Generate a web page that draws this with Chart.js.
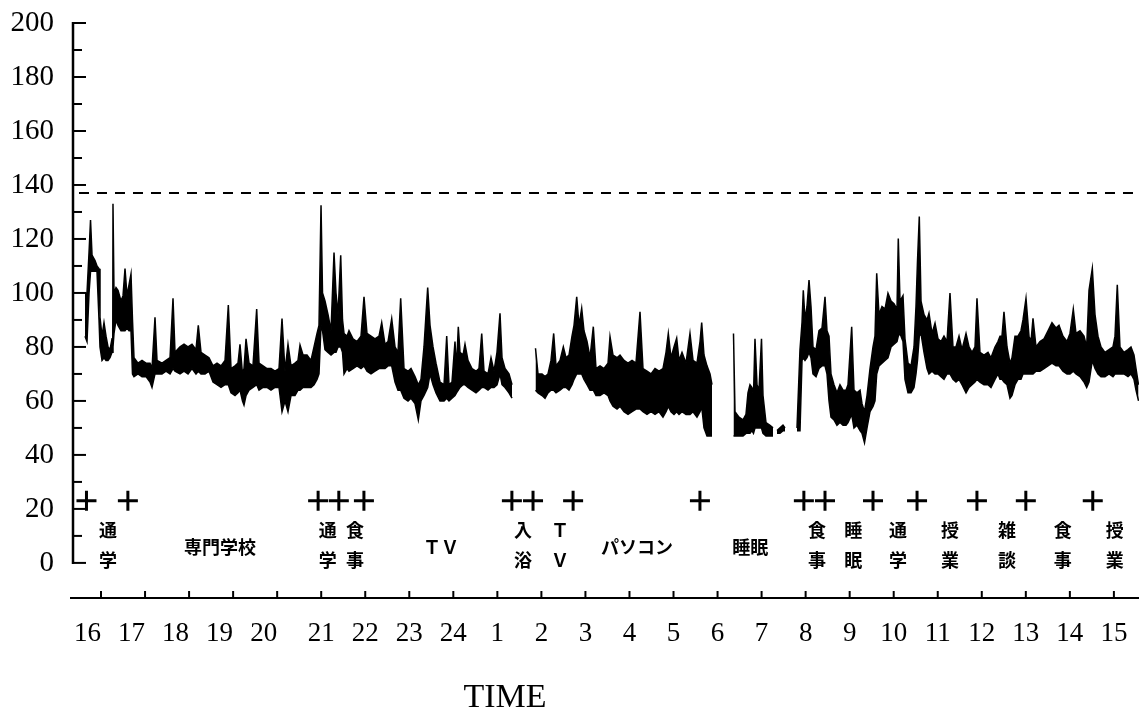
<!DOCTYPE html>
<html>
<head>
<meta charset="utf-8">
<script src="https://cdn.jsdelivr.net/npm/chart.js@4.4.1/dist/chart.umd.min.js"></script>
<style>
  html, body { margin: 0; padding: 0; background: #fff; }
</style>
</head>
<body>
<canvas id="hrChart" width="1139" height="708"></canvas>
<script>
// hours counted from 16:00; values over 24 are the next morning
var hourTicks = [16,17,18,19,20,21,22,23,24,25,26,27,28,29,30,31,32,33,34,35,36,37,38,39];
var yTickValues = [0,20,40,60,80,100,120,140,160,180,200];
var thresholdValue = 137;
var markLevel = 23;

// activity change marks (+) and activity names
var markHours = [15.67, 16.61, 20.93, 21.40, 21.97, 25.33, 25.81, 26.72, 29.60, 31.96, 32.44, 33.53, 34.53, 35.89, 37.00, 38.52];
var activityHours = [16.16, 18.70, 21.15, 21.77, 23.72, 25.58, 26.42, 28.17, 30.74, 32.26, 33.08, 34.10, 35.28, 36.57, 37.84, 39.02];
var activityLabels = ['通\n学', '専門学校', '通\n学', '食\n事', 'ＴＶ', '入\n浴', 'Ｔ\nＶ', 'パソコン', '睡眠', '食\n事', '睡\n眠', '通\n学', '授\n業', '雑\n談', '食\n事', '授\n業'];

// heart rate trace: time, lower and upper edge of the band
var hrTime = [
  // 16:00 - 1:20
  15.637, 15.682, 15.728, 15.762, 15.796, 15.864, 15.909, 15.955, 15.977, 16.023,
  16.068, 16.114, 16.159, 16.204, 16.250, 16.272, 16.295, 16.341, 16.386, 16.454,
  16.500, 16.545, 16.590, 16.636, 16.681, 16.715, 16.749, 16.840, 16.931, 17.022,
  17.113, 17.158, 17.226, 17.272, 17.385, 17.476, 17.567, 17.635, 17.680, 17.794,
  17.885, 17.976, 18.066, 18.157, 18.209, 18.271, 18.362, 18.452, 18.543, 18.634,
  18.725, 18.816, 18.891, 18.952, 19.043, 19.111, 19.156, 19.213, 19.247, 19.293,
  19.361, 19.451, 19.535, 19.588, 19.679, 19.769, 19.860, 19.951, 20.042, 20.110,
  20.178, 20.246, 20.314, 20.405, 20.473, 20.519, 20.587, 20.678, 20.768, 20.837,
  20.905, 20.950, 20.996, 21.030, 21.086, 21.155, 21.223, 21.291, 21.336, 21.382,
  21.443, 21.484, 21.518, 21.586, 21.631, 21.722, 21.813, 21.904, 21.972, 22.040,
  22.131, 22.222, 22.313, 22.374, 22.449, 22.517, 22.601, 22.676, 22.744, 22.805,
  22.880, 22.971, 23.039, 23.130, 23.205, 23.266, 23.334, 23.418, 23.471, 23.539,
  23.607, 23.698, 23.789, 23.850, 23.902, 23.970, 24.038, 24.072, 24.113, 24.152,
  24.220, 24.265, 24.333, 24.424, 24.515, 24.583, 24.645, 24.697, 24.788, 24.856,
  24.924, 24.992, 25.060, 25.106, 25.174, 25.264, 25.333,
  25.60,
  // 1:50 - 5:50
  25.866, 25.923, 26.014, 26.082, 26.150, 26.218, 26.279, 26.332, 26.423, 26.498,
  26.559, 26.627, 26.695, 26.741, 26.802, 26.854, 26.915, 26.967, 27.036, 27.104,
  27.179, 27.240, 27.331, 27.422, 27.513, 27.558, 27.626, 27.717, 27.785, 27.876,
  27.967, 28.058, 28.148, 28.239, 28.307, 28.398, 28.489, 28.580, 28.671, 28.761,
  28.830, 28.882, 28.943, 29.011, 29.072, 29.125, 29.193, 29.284, 29.374, 29.443,
  29.533, 29.602, 29.640, 29.692, 29.760, 29.829, 29.874,
  30.15,
  // sleep
  30.362, 30.396, 30.487, 30.578, 30.646, 30.691, 30.737, 30.782, 30.816, 30.850,
  30.896, 30.941, 30.998, 31.032, 31.100, 31.191, 31.259,
  31.30,
  31.350, 31.418, 31.486, 31.532,
  31.70,
  // 7:50 - 15:30
  31.804, 31.872, 31.918, 31.947, 31.986, 32.031, 32.077, 32.122, 32.167, 32.236,
  32.304, 32.372, 32.440, 32.485, 32.531, 32.576, 32.644, 32.712, 32.780, 32.849,
  32.917, 32.962, 33.046, 33.098, 33.166, 33.235, 33.280, 33.337, 33.394, 33.462,
  33.530, 33.575, 33.614, 33.666, 33.734, 33.802, 33.870, 33.939, 34.007, 34.075,
  34.104, 34.143, 34.211, 34.256, 34.325, 34.393, 34.461, 34.506, 34.540, 34.581,
  34.620, 34.688, 34.756, 34.801, 34.870, 34.938, 35.006, 35.074, 35.142, 35.210,
  35.278, 35.346, 35.414, 35.483, 35.551, 35.642, 35.710, 35.778, 35.846, 35.891,
  35.959, 36.050, 36.141, 36.209, 36.300, 36.368, 36.414, 36.459, 36.504, 36.573,
  36.641, 36.686, 36.754, 36.822, 36.890, 36.936, 37.004, 37.072, 37.118, 37.163,
  37.231, 37.322, 37.413, 37.504, 37.594, 37.685, 37.753, 37.844, 37.935, 38.003,
  38.078, 38.139, 38.230, 38.321, 38.382, 38.435, 38.510, 38.571, 38.639, 38.707,
  38.798, 38.889, 38.979, 39.025, 39.077, 39.138, 39.229, 39.320, 39.388, 39.456,
  39.502, 39.559
];

var hrLow = [
  84, 82, 100, 108, 108, 108, 108, 90, 80, 75,
  76, 75, 75, 76, 78, 80, 85, 90, 88, 86,
  86, 86, 87, 86, 86, 70, 69, 70, 69, 69,
  67, 65, 70, 70, 70, 71, 70, 72, 71, 70,
  71, 70, 72, 70, 71, 70, 70, 71, 67, 66,
  65, 66, 66, 63, 62, 63, 64, 60, 58.5, 62,
  64, 65, 66, 64, 65, 65, 64, 65, 65, 56,
  60, 56, 62, 62, 64, 64, 65, 65, 65, 66,
  68, 70, 88, 86, 79, 78, 77, 78, 78, 80,
  80, 78, 70, 72, 71, 72, 73, 72, 73, 71,
  70, 71, 72, 72, 72, 73, 73, 67, 64, 64,
  61, 60, 61, 59, 53, 60, 62, 65, 70, 66,
  63, 60, 60, 61, 60, 61, 62, 63, 64, 65,
  66, 66, 65, 64, 63, 64, 65, 65, 64, 65,
  65, 66, 70, 66, 65, 63, 61,
  null,
  64, 63, 62, 61, 63, 64, 64, 63, 64, 65,
  65, 64, 66, 68, 70, 70, 70, 68, 66, 64,
  64, 62, 62, 63, 62, 60, 58, 57, 58, 56,
  55, 56, 57, 57, 56, 55, 56, 55, 56, 54,
  56, 58, 56, 55, 56, 55, 56, 55, 55, 56,
  54, 56, 58, 50, 47, 47, 47,
  null,
  47, 47, 47, 47, 48, 48, 48, 49, 48, 50,
  50, 50, 50, 48, 47, 47, 47,
  null,
  48, 48, 49, 49,
  null,
  49, 49, 75, 76, 75, 76, 78, 76, 70, 69,
  72, 73, 73, 70, 60, 54, 53, 51, 52, 51,
  51, 52, 55, 50, 51, 49, 48, 44.5, 50, 56,
  58, 60, 70, 73, 74, 75, 76, 80, 81, 82,
  84, 85, 82, 68, 63, 63, 65, 70, 75, 84,
  85, 78, 72, 70, 71, 70, 70, 69, 68, 70,
  70, 68, 67, 68, 66, 63, 65, 66, 67, 68,
  67, 66, 66, 65, 68, 70, 68, 68, 67, 66,
  61, 62, 66, 68, 68, 70, 70, 70, 70, 70,
  71, 71, 72, 73, 74, 73, 73, 71, 70, 70,
  71, 70, 69, 67, 65, 67, 75, 72, 70, 69,
  69, 70, 69, 70, 70, 70, 70, 69, 70, 68,
  64, 60
];

var hrHigh = [
  100, 100, 115, 127, 114, 112, 110, 109, 91, 84,
  89, 84, 80, 79, 83, 133, 100, 102, 101, 97,
  99, 109, 99, 103, 107, 90, 76, 74, 75, 74,
  74, 72, 91, 75, 74, 75, 76, 98, 78, 80,
  81, 80, 81, 79, 88, 78, 77, 76, 73, 74,
  73, 75, 95.5, 72, 73, 74, 81, 70, 72, 83,
  74, 73, 94, 74, 73, 72, 72, 71, 72, 90.5,
  71, 81, 73, 74, 75, 80.7, 77, 77, 75, 80,
  85, 88, 132.5, 100, 97, 92, 86, 115, 100, 92,
  114, 90, 85, 84, 86, 83, 82, 84, 98.6, 85,
  84, 83, 84, 89, 81, 82, 90.5, 80, 78, 98,
  72, 71, 72, 69, 66, 68, 80, 102, 88, 80,
  74, 67, 66, 84, 66, 67, 82, 72, 87.5, 78,
  77, 81, 75, 72, 71, 72, 85, 71, 70, 76,
  71, 78, 92.5, 76, 72, 70, 66,
  null,
  79.5, 70, 70, 69, 70, 75, 85, 73, 75, 80,
  76, 77, 84, 88, 98.6, 88, 94.3, 86, 82, 76,
  87.5, 72, 73, 72, 74, 83.8, 77, 76, 77, 75,
  74, 75, 74, 93, 72, 71, 70, 72, 71, 72,
  78, 85, 76, 80, 83.2, 75, 78, 74, 85, 75,
  74, 82, 89, 77, 73, 70, 66,
  null,
  85, 56, 54, 53, 55, 63, 66, 65, 62, 83,
  66, 64, 83, 62, 52, 51, 50,
  null,
  49, 50, 51, 50,
  null,
  50, 79, 89, 101, 90, 95, 104.8, 95, 80, 79,
  86, 87, 98.6, 86, 84, 70, 66, 63, 66, 64,
  64, 66, 87.5, 64, 63, 64, 59, 56, 62, 72,
  80, 84, 107.3, 92, 95, 94, 99.9, 97, 96, 94,
  120.2, 97, 99, 83, 74, 73, 80, 95, 111.6, 128.3,
  97, 92, 90, 92.5, 85, 88.8, 83, 82, 84, 82,
  100, 80, 80, 84, 79, 85, 80, 78, 80, 98,
  78, 77, 78, 76, 80, 82, 84, 84, 93, 80,
  74, 76, 84, 84, 86, 90, 98, 84, 82, 90.6,
  80, 82, 83, 86, 89, 87, 88, 84, 82, 85,
  94, 85, 86, 84, 80, 101, 109.1, 92, 84, 80,
  78, 79, 80, 84, 103, 80, 78, 79, 80, 77,
  72, 66
];

Chart.defaults.font.family = '"Liberation Serif", "Times New Roman", serif';
Chart.defaults.color = '#000';

// axis lines with inward ticks, like the original plot
var axisFrame = {
  id: 'axisFrame',
  afterDatasetsDraw: function (chart) {
    var ctx = chart.ctx, xs = chart.scales.x, ys = chart.scales.y, area = chart.chartArea;
    ctx.save();
    ctx.strokeStyle = '#000';
    ctx.lineWidth = 2.5;
    ctx.beginPath();
    ctx.moveTo(area.left, ys.getPixelForValue(200) - 1);
    ctx.lineTo(area.left, ys.getPixelForValue(0) + 1);
    ctx.stroke();
    ctx.lineWidth = 2;
    for (var v = 0; v <= 200; v += 10) {
      var py = ys.getPixelForValue(v);
      var len = v % 20 === 0 ? 13 : 9;
      ctx.beginPath();
      ctx.moveTo(area.left, py);
      ctx.lineTo(area.left + len, py);
      ctx.stroke();
    }
    ctx.beginPath();
    ctx.moveTo(area.left - 3, area.bottom);
    ctx.lineTo(area.right, area.bottom);
    ctx.stroke();
    hourTicks.forEach(function (h) {
      var px = xs.getPixelForValue(h);
      ctx.beginPath();
      ctx.moveTo(px, area.bottom);
      ctx.lineTo(px, area.bottom - 7);
      ctx.stroke();
    });
    ctx.restore();
  }
};

var activityText = {
  id: 'activityText',
  afterDatasetsDraw: function (chart) {
    var ctx = chart.ctx, xs = chart.scales.x, ys = chart.scales.y;
    ctx.save();
    ctx.fillStyle = '#000';
    ctx.font = 'bold 18px "Noto Sans CJK JP"';
    ctx.textAlign = 'center';
    ctx.textBaseline = 'middle';
    activityLabels.forEach(function (txt, i) {
      var px = xs.getPixelForValue(activityHours[i]);
      var lines = txt.split('\n');
      if (lines.length === 2) {
        ctx.fillText(lines[0], px, ys.getPixelForValue(12.2));
        ctx.fillText(lines[1], px, ys.getPixelForValue(1.1));
      } else {
        ctx.fillText(txt, px, ys.getPixelForValue(5.9));
      }
    });
    // axis title sits left of centre in the original
    ctx.font = '34px "Liberation Serif"';
    ctx.textBaseline = 'alphabetic';
    ctx.fillText('TIME', 505, 707);
    ctx.restore();
  }
};

var hrChart = new Chart(document.getElementById('hrChart'), {
  type: 'line',
  data: {
    datasets: [
      {
        data: hrTime.map(function (t, i) { return { x: t, y: hrHigh[i] }; }),
        borderColor: '#000',
        borderWidth: 1.5,
        pointRadius: 0,
        fill: false
      },
      {
        data: hrTime.map(function (t, i) { return { x: t, y: hrLow[i] }; }),
        borderColor: '#000',
        backgroundColor: '#000',
        borderWidth: 1.5,
        pointRadius: 0,
        fill: '-1'
      },
      {
        data: [{ x: 15.5, y: thresholdValue }, { x: 39.57, y: thresholdValue }],
        borderColor: '#000',
        borderWidth: 2,
        borderDash: [10, 8],
        pointRadius: 0,
        fill: false
      },
      {
        data: markHours.map(function (h) { return { x: h, y: markLevel }; }),
        showLine: false,
        pointStyle: 'cross',
        pointRadius: 10,
        pointBorderWidth: 3,
        pointBorderColor: '#000',
        borderColor: '#000'
      }
    ]
  },
  options: {
    responsive: false,
    animation: false,
    layout: { autoPadding: false, padding: { top: 23, left: 0, right: 0, bottom: 0 } },
    plugins: { legend: { display: false }, tooltip: { enabled: false } },
    scales: {
      x: {
        type: 'linear',
        min: 15.364,
        max: 39.57,
        afterBuildTicks: function (s) { s.ticks = hourTicks.map(function (h) { return { value: h }; }); },
        afterFit: function (s) { s.height = 110; s.paddingLeft = 0; s.paddingRight = 0; },
        grid: { display: false, drawTicks: false },
        border: { display: false },
        ticks: {
          padding: 20,
          font: { size: 27 },
          maxRotation: 0,
          autoSkip: false,
          // the evening labels sit a little left of their ticks in the original
          callback: function (v) {
            if (v > 24) return String(v - 24);
            return v <= 20 ? v + '    ' : String(v);
          }
        }
      },
      y: {
        min: -13,
        max: 200,
        afterBuildTicks: function (s) { s.ticks = yTickValues.map(function (v) { return { value: v }; }); },
        afterFit: function (s) { s.width = 73; s.paddingTop = 0; s.paddingBottom = 0; },
        grid: { display: false, drawTicks: false },
        border: { display: false },
        ticks: { padding: 19, font: { size: 29 } }
      }
    }
  },
  plugins: [axisFrame, activityText]
});
</script>
</body>
</html>
